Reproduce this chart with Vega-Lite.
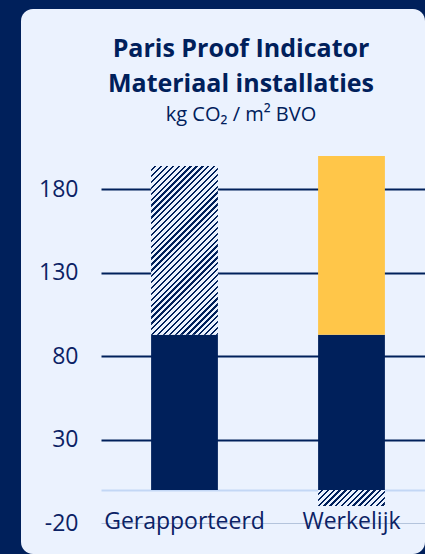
{
  "$schema": "https://vega.github.io/schema/vega-lite/v6.json",
  "autosize": {"type": "none"},
  "width": 404,
  "height": 545,
  "padding": {"left": 21, "top": 9, "right": 0, "bottom": 0},
  "background": "#00205b",
  "config": {
    "view": {"fill": "#ebf2fe", "stroke": null, "cornerRadius": 12},
    "font": "Open Sans"
  },
  "title": {
    "text": ["Paris Proof Indicator", "Materiaal installaties"],
    "subtitle": "kg CO₂ / m² BVO",
    "frame": "group",
    "anchor": "middle",
    "dx": 18,
    "offset": -116,
    "font": "Open Sans",
    "fontSize": 25,
    "fontWeight": "bold",
    "color": "#00205b",
    "lineHeight": 35,
    "subtitleFont": "Open Sans",
    "subtitleFontSize": 20,
    "subtitleColor": "#00205b",
    "subtitlePadding": 8
  },
  "data": {
    "values": [
      {"cat": "Gerapporteerd", "seg": "basis", "lo": 0, "hi": 93},
      {"cat": "Gerapporteerd", "seg": "hatch", "lo": 93, "hi": 194},
      {"cat": "Werkelijk", "seg": "basis", "lo": 0, "hi": 93},
      {"cat": "Werkelijk", "seg": "extra", "lo": 93, "hi": 200},
      {"cat": "Werkelijk", "seg": "hatch", "lo": -9.5, "hi": 0}
    ]
  },
  "encoding": {
    "x": {
      "field": "cat",
      "type": "nominal",
      "sort": ["Gerapporteerd", "Werkelijk"],
      "scale": {"range": [80, 414], "paddingInner": 0.6, "paddingOuter": 0.3},
      "axis": {
        "orient": "bottom",
        "offset": -33,
        "domain": false,
        "ticks": false,
        "tickSize": 0,
        "grid": false,
        "labelPadding": 0,
        "labelBaseline": "middle",
        "labelAngle": 0,
        "labelFont": "Open Sans",
        "labelFontSize": 23,
        "labelColor": "#0b2265",
        "title": null
      }
    },
    "y": {
      "field": "lo",
      "type": "quantitative",
      "scale": {"domain": [-38.3, 288], "nice": false, "zero": false},
      "axis": {
        "orient": "left",
        "offset": -80,
        "values": [-20, 0, 30, 80, 130, 180],
        "labelExpr": "datum.value === 0 ? '' : '' + datum.value",
        "domain": false,
        "ticks": false,
        "tickSize": 0,
        "labelPadding": 23,
        "labelFont": "Open Sans",
        "labelFontSize": 23,
        "labelColor": "#0b2265",
        "grid": true,
        "gridColor": {
          "condition": [
            {"test": "datum.value === 0", "value": "#c3d7f5"},
            {"test": "datum.value === -20", "value": "#b4c4dc"}
          ],
          "value": "#00205b"
        },
        "gridWidth": {"condition": {"test": "datum.value === -20", "value": 1}, "value": 2},
        "gridOpacity": 1,
        "title": null
      }
    },
    "y2": {"field": "hi"}
  },
  "layer": [
    {
      "transform": [{"filter": "datum.seg !== 'hatch'"}],
      "mark": {"type": "bar"},
      "encoding": {
        "color": {
          "field": "seg",
          "type": "nominal",
          "scale": {"domain": ["basis", "extra"], "range": ["#00205b", "#ffc649"]},
          "legend": null
        }
      }
    },
    {
      "transform": [{"filter": "datum.seg === 'hatch' && datum.cat === 'Gerapporteerd'"}],
      "mark": {
        "type": "bar",
        "fill": {
          "gradient": "linear",
          "x1": 0, "y1": 0, "x2": 0.478, "y2": 1.207,
          "stops": [
            {"offset": 0, "color": "#ebf2fe"}, {"offset": 0.015, "color": "#ebf2fe"}, {"offset": 0.015, "color": "#00205b"}, {"offset": 0.025, "color": "#00205b"},
            {"offset": 0.025, "color": "#ebf2fe"}, {"offset": 0.04, "color": "#ebf2fe"}, {"offset": 0.04, "color": "#00205b"}, {"offset": 0.05, "color": "#00205b"},
            {"offset": 0.05, "color": "#ebf2fe"}, {"offset": 0.065, "color": "#ebf2fe"}, {"offset": 0.065, "color": "#00205b"}, {"offset": 0.075, "color": "#00205b"},
            {"offset": 0.075, "color": "#ebf2fe"}, {"offset": 0.09, "color": "#ebf2fe"}, {"offset": 0.09, "color": "#00205b"}, {"offset": 0.1, "color": "#00205b"},
            {"offset": 0.1, "color": "#ebf2fe"}, {"offset": 0.115, "color": "#ebf2fe"}, {"offset": 0.115, "color": "#00205b"}, {"offset": 0.125, "color": "#00205b"},
            {"offset": 0.125, "color": "#ebf2fe"}, {"offset": 0.14, "color": "#ebf2fe"}, {"offset": 0.14, "color": "#00205b"}, {"offset": 0.15, "color": "#00205b"},
            {"offset": 0.15, "color": "#ebf2fe"}, {"offset": 0.165, "color": "#ebf2fe"}, {"offset": 0.165, "color": "#00205b"}, {"offset": 0.175, "color": "#00205b"},
            {"offset": 0.175, "color": "#ebf2fe"}, {"offset": 0.19, "color": "#ebf2fe"}, {"offset": 0.19, "color": "#00205b"}, {"offset": 0.2, "color": "#00205b"},
            {"offset": 0.2, "color": "#ebf2fe"}, {"offset": 0.215, "color": "#ebf2fe"}, {"offset": 0.215, "color": "#00205b"}, {"offset": 0.225, "color": "#00205b"},
            {"offset": 0.225, "color": "#ebf2fe"}, {"offset": 0.24, "color": "#ebf2fe"}, {"offset": 0.24, "color": "#00205b"}, {"offset": 0.25, "color": "#00205b"},
            {"offset": 0.25, "color": "#ebf2fe"}, {"offset": 0.265, "color": "#ebf2fe"}, {"offset": 0.265, "color": "#00205b"}, {"offset": 0.275, "color": "#00205b"},
            {"offset": 0.275, "color": "#ebf2fe"}, {"offset": 0.29, "color": "#ebf2fe"}, {"offset": 0.29, "color": "#00205b"}, {"offset": 0.3, "color": "#00205b"},
            {"offset": 0.3, "color": "#ebf2fe"}, {"offset": 0.315, "color": "#ebf2fe"}, {"offset": 0.315, "color": "#00205b"}, {"offset": 0.325, "color": "#00205b"},
            {"offset": 0.325, "color": "#ebf2fe"}, {"offset": 0.34, "color": "#ebf2fe"}, {"offset": 0.34, "color": "#00205b"}, {"offset": 0.35, "color": "#00205b"},
            {"offset": 0.35, "color": "#ebf2fe"}, {"offset": 0.365, "color": "#ebf2fe"}, {"offset": 0.365, "color": "#00205b"}, {"offset": 0.375, "color": "#00205b"},
            {"offset": 0.375, "color": "#ebf2fe"}, {"offset": 0.39, "color": "#ebf2fe"}, {"offset": 0.39, "color": "#00205b"}, {"offset": 0.4, "color": "#00205b"},
            {"offset": 0.4, "color": "#ebf2fe"}, {"offset": 0.415, "color": "#ebf2fe"}, {"offset": 0.415, "color": "#00205b"}, {"offset": 0.425, "color": "#00205b"},
            {"offset": 0.425, "color": "#ebf2fe"}, {"offset": 0.44, "color": "#ebf2fe"}, {"offset": 0.44, "color": "#00205b"}, {"offset": 0.45, "color": "#00205b"},
            {"offset": 0.45, "color": "#ebf2fe"}, {"offset": 0.465, "color": "#ebf2fe"}, {"offset": 0.465, "color": "#00205b"}, {"offset": 0.475, "color": "#00205b"},
            {"offset": 0.475, "color": "#ebf2fe"}, {"offset": 0.49, "color": "#ebf2fe"}, {"offset": 0.49, "color": "#00205b"}, {"offset": 0.5, "color": "#00205b"},
            {"offset": 0.5, "color": "#ebf2fe"}, {"offset": 0.515, "color": "#ebf2fe"}, {"offset": 0.515, "color": "#00205b"}, {"offset": 0.525, "color": "#00205b"},
            {"offset": 0.525, "color": "#ebf2fe"}, {"offset": 0.54, "color": "#ebf2fe"}, {"offset": 0.54, "color": "#00205b"}, {"offset": 0.55, "color": "#00205b"},
            {"offset": 0.55, "color": "#ebf2fe"}, {"offset": 0.565, "color": "#ebf2fe"}, {"offset": 0.565, "color": "#00205b"}, {"offset": 0.575, "color": "#00205b"},
            {"offset": 0.575, "color": "#ebf2fe"}, {"offset": 0.59, "color": "#ebf2fe"}, {"offset": 0.59, "color": "#00205b"}, {"offset": 0.6, "color": "#00205b"},
            {"offset": 0.6, "color": "#ebf2fe"}, {"offset": 0.615, "color": "#ebf2fe"}, {"offset": 0.615, "color": "#00205b"}, {"offset": 0.625, "color": "#00205b"},
            {"offset": 0.625, "color": "#ebf2fe"}, {"offset": 0.64, "color": "#ebf2fe"}, {"offset": 0.64, "color": "#00205b"}, {"offset": 0.65, "color": "#00205b"},
            {"offset": 0.65, "color": "#ebf2fe"}, {"offset": 0.665, "color": "#ebf2fe"}, {"offset": 0.665, "color": "#00205b"}, {"offset": 0.675, "color": "#00205b"},
            {"offset": 0.675, "color": "#ebf2fe"}, {"offset": 0.69, "color": "#ebf2fe"}, {"offset": 0.69, "color": "#00205b"}, {"offset": 0.7, "color": "#00205b"},
            {"offset": 0.7, "color": "#ebf2fe"}, {"offset": 0.715, "color": "#ebf2fe"}, {"offset": 0.715, "color": "#00205b"}, {"offset": 0.725, "color": "#00205b"},
            {"offset": 0.725, "color": "#ebf2fe"}, {"offset": 0.74, "color": "#ebf2fe"}, {"offset": 0.74, "color": "#00205b"}, {"offset": 0.75, "color": "#00205b"},
            {"offset": 0.75, "color": "#ebf2fe"}, {"offset": 0.765, "color": "#ebf2fe"}, {"offset": 0.765, "color": "#00205b"}, {"offset": 0.775, "color": "#00205b"},
            {"offset": 0.775, "color": "#ebf2fe"}, {"offset": 0.79, "color": "#ebf2fe"}, {"offset": 0.79, "color": "#00205b"}, {"offset": 0.8, "color": "#00205b"},
            {"offset": 0.8, "color": "#ebf2fe"}, {"offset": 0.815, "color": "#ebf2fe"}, {"offset": 0.815, "color": "#00205b"}, {"offset": 0.825, "color": "#00205b"},
            {"offset": 0.825, "color": "#ebf2fe"}, {"offset": 0.84, "color": "#ebf2fe"}, {"offset": 0.84, "color": "#00205b"}, {"offset": 0.85, "color": "#00205b"},
            {"offset": 0.85, "color": "#ebf2fe"}, {"offset": 0.865, "color": "#ebf2fe"}, {"offset": 0.865, "color": "#00205b"}, {"offset": 0.875, "color": "#00205b"},
            {"offset": 0.875, "color": "#ebf2fe"}, {"offset": 0.89, "color": "#ebf2fe"}, {"offset": 0.89, "color": "#00205b"}, {"offset": 0.9, "color": "#00205b"},
            {"offset": 0.9, "color": "#ebf2fe"}, {"offset": 0.915, "color": "#ebf2fe"}, {"offset": 0.915, "color": "#00205b"}, {"offset": 0.925, "color": "#00205b"},
            {"offset": 0.925, "color": "#ebf2fe"}, {"offset": 0.94, "color": "#ebf2fe"}, {"offset": 0.94, "color": "#00205b"}, {"offset": 0.95, "color": "#00205b"},
            {"offset": 0.95, "color": "#ebf2fe"}, {"offset": 0.965, "color": "#ebf2fe"}, {"offset": 0.965, "color": "#00205b"}, {"offset": 0.975, "color": "#00205b"},
            {"offset": 0.975, "color": "#ebf2fe"}, {"offset": 0.99, "color": "#ebf2fe"}, {"offset": 0.99, "color": "#00205b"}, {"offset": 1, "color": "#00205b"}
          ]
        }
      }
    },
    {
      "transform": [{"filter": "datum.seg === 'hatch' && datum.cat === 'Werkelijk'"}],
      "mark": {
        "type": "bar",
        "fill": {
          "gradient": "linear",
          "x1": 0, "y1": 0, "x2": 1.172, "y2": 0.279,
          "stops": [
            {"offset": 0, "color": "#ebf2fe"}, {"offset": 0.042, "color": "#ebf2fe"}, {"offset": 0.042, "color": "#00205b"}, {"offset": 0.07, "color": "#00205b"},
            {"offset": 0.07, "color": "#ebf2fe"}, {"offset": 0.112, "color": "#ebf2fe"}, {"offset": 0.112, "color": "#00205b"}, {"offset": 0.14, "color": "#00205b"},
            {"offset": 0.14, "color": "#ebf2fe"}, {"offset": 0.182, "color": "#ebf2fe"}, {"offset": 0.182, "color": "#00205b"}, {"offset": 0.21, "color": "#00205b"},
            {"offset": 0.21, "color": "#ebf2fe"}, {"offset": 0.252, "color": "#ebf2fe"}, {"offset": 0.252, "color": "#00205b"}, {"offset": 0.28, "color": "#00205b"},
            {"offset": 0.28, "color": "#ebf2fe"}, {"offset": 0.322, "color": "#ebf2fe"}, {"offset": 0.322, "color": "#00205b"}, {"offset": 0.35, "color": "#00205b"},
            {"offset": 0.35, "color": "#ebf2fe"}, {"offset": 0.392, "color": "#ebf2fe"}, {"offset": 0.392, "color": "#00205b"}, {"offset": 0.42, "color": "#00205b"},
            {"offset": 0.42, "color": "#ebf2fe"}, {"offset": 0.462, "color": "#ebf2fe"}, {"offset": 0.462, "color": "#00205b"}, {"offset": 0.49, "color": "#00205b"},
            {"offset": 0.49, "color": "#ebf2fe"}, {"offset": 0.532, "color": "#ebf2fe"}, {"offset": 0.532, "color": "#00205b"}, {"offset": 0.56, "color": "#00205b"},
            {"offset": 0.56, "color": "#ebf2fe"}, {"offset": 0.602, "color": "#ebf2fe"}, {"offset": 0.602, "color": "#00205b"}, {"offset": 0.63, "color": "#00205b"},
            {"offset": 0.63, "color": "#ebf2fe"}, {"offset": 0.672, "color": "#ebf2fe"}, {"offset": 0.672, "color": "#00205b"}, {"offset": 0.7, "color": "#00205b"},
            {"offset": 0.7, "color": "#ebf2fe"}, {"offset": 0.742, "color": "#ebf2fe"}, {"offset": 0.742, "color": "#00205b"}, {"offset": 0.77, "color": "#00205b"},
            {"offset": 0.77, "color": "#ebf2fe"}, {"offset": 0.812, "color": "#ebf2fe"}, {"offset": 0.812, "color": "#00205b"}, {"offset": 0.84, "color": "#00205b"},
            {"offset": 0.84, "color": "#ebf2fe"}, {"offset": 0.882, "color": "#ebf2fe"}, {"offset": 0.882, "color": "#00205b"}, {"offset": 0.91, "color": "#00205b"},
            {"offset": 0.91, "color": "#ebf2fe"}, {"offset": 0.952, "color": "#ebf2fe"}, {"offset": 0.952, "color": "#00205b"}, {"offset": 0.98, "color": "#00205b"},
            {"offset": 0.98, "color": "#ebf2fe"}, {"offset": 1, "color": "#ebf2fe"}
          ]
        }
      }
    }
  ]
}
